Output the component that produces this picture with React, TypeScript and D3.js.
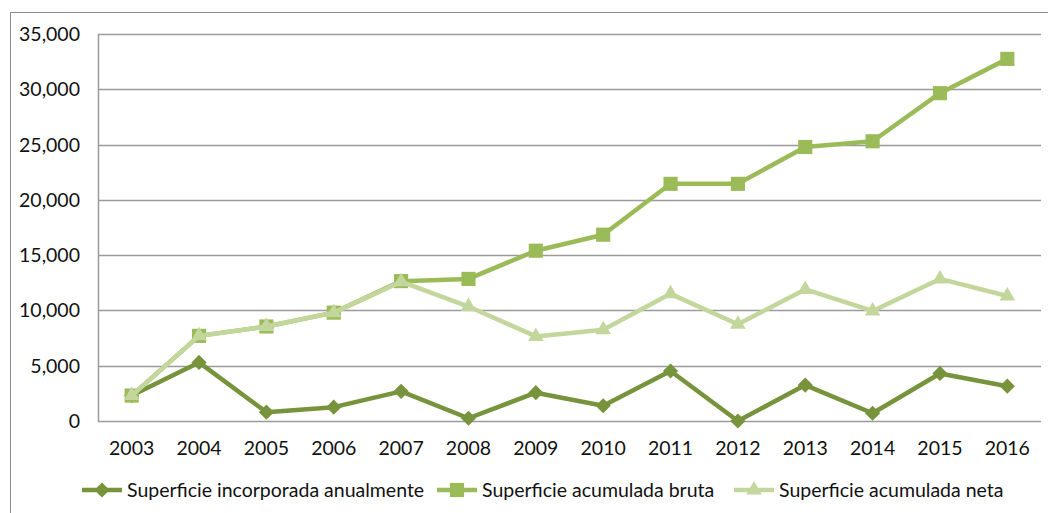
import React, { useRef, useEffect } from "react";
import { select, scaleLinear, scaleBand, line, symbol, symbolSquare, symbolTriangle, format } from "d3";

const years = ["2003", "2004", "2005", "2006", "2007", "2008", "2009", "2010", "2011", "2012", "2013", "2014", "2015", "2016"];
const anual = [2300, 5300, 800, 1250, 2680, 250, 2560, 1380, 4520, 0, 3250, 700, 4300, 3150];
const bruta = [2300, 7700, 8550, 9800, 12650, 12850, 15400, 16850, 21450, 21450, 24780, 25300, 29650, 32750];
const neta = [2300, 7700, 8550, 9800, 12600, 10350, 7650, 8250, 11500, 8750, 11900, 9950, 12850, 11300];
const yTicks = [0, 5000, 10000, 15000, 20000, 25000, 30000, 35000];
const seriesNames = ["Superficie incorporada anualmente", "Superficie acumulada bruta", "Superficie acumulada neta"];

const W = 1048;
const H = 513;
const left = 98;
const right = 1041;
const top = 34;
const bottom = 421;
const font = "Lato, 'Open Sans', sans-serif";

const App: React.FC = () => {
  const svgRef = useRef(null);

  useEffect(() => {
    const svg = select(svgRef.current);
    svg.selectAll("*").remove();

    const x = scaleBand().domain(years).range([left, right]);
    const y = scaleLinear().domain([0, 35000]).range([bottom, top]);
    const cx = (d: string) => x(d)! + x.bandwidth() / 2;

    // chart frame
    svg.append("rect").attr("x", 10.5).attr("y", 12.5).attr("width", W).attr("height", H)
      .attr("fill", "white").attr("stroke", "#8c8c8c").attr("stroke-width", 1);

    // gridlines
    svg.append("g").selectAll("line").data(yTicks).join("line")
      .attr("x1", left).attr("x2", right)
      .attr("y1", (d) => Math.round(y(d)) + 0.5).attr("y2", (d) => Math.round(y(d)) + 0.5)
      .attr("stroke", "#9a9a9a").attr("stroke-width", 1.5);
    svg.append("line").attr("x1", left + 0.5).attr("x2", left + 0.5).attr("y1", top).attr("y2", bottom + 1)
      .attr("stroke", "#9a9a9a").attr("stroke-width", 1.5);

    const fmt = format(",");
    svg.append("g").selectAll("text").data(yTicks).join("text")
      .attr("x", 80).attr("y", (d) => y(d) + 7)
      .attr("text-anchor", "end").attr("font-family", font).attr("font-size", 19.5).attr("fill", "#111")
      .text((d) => fmt(d));

    svg.append("g").selectAll("text").data(years).join("text")
      .attr("x", (d) => cx(d)).attr("y", 455)
      .attr("text-anchor", "middle").attr("font-family", font).attr("font-size", 19.5).attr("fill", "#111")
      .text((d) => d);

    const diamond = (s: number) => symbol(symbolSquare, s)();
    const series = [
      { name: seriesNames[0], values: anual, color: "#77933C", d: diamond(115), rot: 45, legendX: 82 },
      { name: seriesNames[1], values: bruta, color: "#9BBB59", d: symbol(symbolSquare, 200)(), rot: 0, legendX: 437 },
      { name: seriesNames[2], values: neta, color: "#C3D69B", d: symbol(symbolTriangle, 105)(), rot: 0, legendX: 734 },
    ];

    series.forEach((s) => {
      const g = svg.append("g");
      const l = line<number>().x((_, i) => cx(years[i])).y((d) => y(d));
      g.append("path").attr("d", l(s.values)).attr("fill", "none")
        .attr("stroke", s.color).attr("stroke-width", 4.5).attr("stroke-linejoin", "round");
      g.selectAll("path.m").data(s.values).join("path").attr("class", "m")
        .attr("transform", (d, i) => `translate(${cx(years[i])},${y(d)}) rotate(${s.rot})`)
        .attr("d", s.d).attr("fill", s.color);

      const lg = svg.append("g");
      lg.append("line").attr("x1", s.legendX).attr("x2", s.legendX + 40).attr("y1", 490).attr("y2", 490)
        .attr("stroke", s.color).attr("stroke-width", 4.5);
      lg.append("path").attr("transform", `translate(${s.legendX + 20},490) rotate(${s.rot})`)
        .attr("d", s.d).attr("fill", s.color);
      lg.append("text").attr("x", s.legendX + 45).attr("y", 497)
        .attr("font-family", font).attr("font-size", 19.5).attr("fill", "#111").text(s.name);
    });
  }, []);

  return <svg ref={svgRef} width={W} height={H} style={{ position: "absolute", left: 0, top: 0 }} />;
};

export default App;
